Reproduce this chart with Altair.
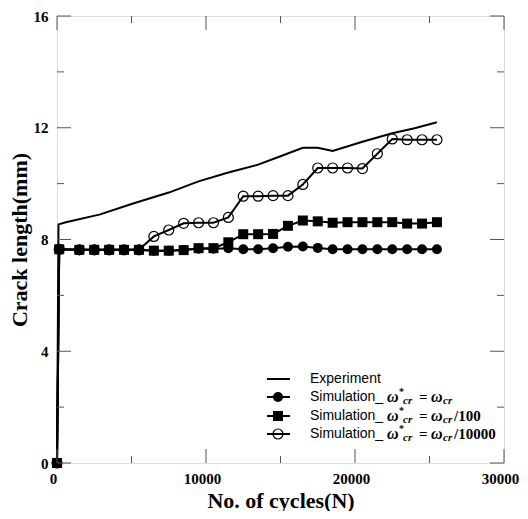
import altair as alt
import pandas as pd

# ---------------- data ----------------
exp_cycles = [0, 100, 600, 2900, 5000, 7500, 9500, 11500, 13500, 15000,
              16500, 17500, 18500, 20500, 22500, 24000, 25500]
exp_crack = [0, 8.54, 8.62, 8.90, 9.27, 9.68, 10.08, 10.40, 10.68, 10.98,
             11.28, 11.28, 11.17, 11.50, 11.80, 11.98, 12.20]

sim_cycles = [0, 150, 1500, 2500, 3500, 4500, 5500, 6500, 7500, 8500, 9500,
              10500, 11500, 12500, 13500, 14500, 15500, 16500, 17500, 18500,
              19500, 20500, 21500, 22500, 23500, 24500, 25500]
crack_wcr = [0, 7.65, 7.63, 7.63, 7.63, 7.63, 7.63, 7.60, 7.60, 7.62, 7.67,
             7.67, 7.69, 7.65, 7.65, 7.69, 7.74, 7.75, 7.70, 7.65,
             7.65, 7.65, 7.65, 7.65, 7.65, 7.65, 7.65]
crack_wcr100 = [0, 7.65, 7.63, 7.63, 7.63, 7.63, 7.63, 7.60, 7.60, 7.62, 7.69,
                7.69, 7.90, 8.19, 8.19, 8.20, 8.49, 8.68, 8.65, 8.60,
                8.62, 8.62, 8.62, 8.62, 8.57, 8.57, 8.62]
crack_wcr10000 = [0, 7.65, 7.63, 7.63, 7.63, 7.63, 7.63, 8.11, 8.34, 8.58, 8.60,
                  8.60, 8.79, 9.55, 9.55, 9.57, 9.57, 9.97, 10.56, 10.56,
                  10.56, 10.54, 11.07, 11.60, 11.57, 11.57, 11.57]

x_major = [0, 10000, 20000, 30000]
x_minor = [5000, 15000, 25000]
y_major = [0, 4, 8, 12, 16]
y_minor = [2, 6, 10, 14]

# ---------------- layout ----------------
W = 447
H = 447
FRAME = "#555555"
SERIF = "Liberation Serif"
SANS = "Liberation Sans"

xs = alt.Scale(domain=[0, 30000], nice=False, zero=False)
ys = alt.Scale(domain=[0, 16], nice=False, zero=False)

xax = alt.Axis(values=x_major, format="d", ticks=False, tickSize=0, domain=False,
               grid=False, labelPadding=8, labelFlush=False, labelOffset=-4,
               labelFont=SERIF, labelFontSize=15, labelFontWeight="bold",
               labelColor="black", title="No. of cycles(N)", titleFont=SERIF,
               titleFontSize=22, titleFontWeight="bold", titleColor="black",
               titleX=W / 2, titleY=37, titleAlign="center", titleBaseline="middle")
yax = alt.Axis(values=y_major, format="d", ticks=False, tickSize=0, domain=False,
               grid=False, labelPadding=9, labelFlush=False,
               labelFont=SERIF, labelFontSize=15, labelFontWeight="bold",
               labelColor="black", title="Crack length(mm)", titleFont=SERIF,
               titleFontSize=22, titleFontWeight="bold", titleColor="black",
               titleX=-38, titleY=H / 2, titleAngle=270, titleAlign="center",
               titleBaseline="middle")

exp_df = pd.DataFrame({"N": exp_cycles, "crack": exp_crack})
df_wcr = pd.DataFrame({"N": sim_cycles, "crack": crack_wcr})
df_wcr100 = pd.DataFrame({"N": sim_cycles, "crack": crack_wcr100})
df_wcr10000 = pd.DataFrame({"N": sim_cycles, "crack": crack_wcr10000})

X = alt.X("N:Q", scale=xs, axis=xax)
Y = alt.Y("crack:Q", scale=ys, axis=yax)

exp_layer = alt.Chart(exp_df).mark_line(color="black", strokeWidth=2).encode(x=X, y=Y)

def sim_layer(df, shape, filled):
    line = alt.Chart(df).mark_line(color="black", strokeWidth=2).encode(x=X, y=Y)
    pts = alt.Chart(df).mark_point(
        shape=shape, filled=filled, size=100, color="black",
        strokeWidth=1.2, opacity=1,
        fill="black" if filled else "transparent").encode(x=X, y=Y)
    return [line, pts]

# ---------------- inward ticks on all four sides ----------------
def xticks(vals, length):
    d = pd.DataFrame({"N": vals})
    b = alt.Chart(d).mark_rule(color=FRAME, strokeWidth=1).encode(
        x=alt.X("N:Q", scale=xs), y=alt.value(H), y2=alt.value(H - length))
    t = alt.Chart(d).mark_rule(color=FRAME, strokeWidth=1).encode(
        x=alt.X("N:Q", scale=xs), y=alt.value(0), y2=alt.value(length))
    return [b, t]

def yticks(vals, length):
    d = pd.DataFrame({"crack": vals})
    l = alt.Chart(d).mark_rule(color=FRAME, strokeWidth=1).encode(
        y=alt.Y("crack:Q", scale=ys), x=alt.value(0), x2=alt.value(length))
    r = alt.Chart(d).mark_rule(color=FRAME, strokeWidth=1).encode(
        y=alt.Y("crack:Q", scale=ys), x=alt.value(W), x2=alt.value(W - length))
    return [l, r]

ticks = xticks(x_major, 14) + xticks(x_minor, 7) + yticks(y_major, 14) + yticks(y_minor, 7)

# ---------------- legend (inside, bottom right) ----------------
one = pd.DataFrame({"k": [0]})
row_y = [363, 381, 400, 418]
sym_x1, sym_x2, sym_c = 210, 233, 221
txt_x = 253

def txt(s, x, y, font, size, weight="normal", style="normal"):
    return alt.Chart(one).mark_text(
        text=s, align="left", baseline="middle", font=font, fontSize=size,
        fontWeight=weight, fontStyle=style, color="black").encode(
        x=alt.value(x), y=alt.value(y))

legend = []
for i, y in enumerate(row_y):
    legend.append(alt.Chart(one).mark_rule(color="black", strokeWidth=2).encode(
        x=alt.value(sym_x1), x2=alt.value(sym_x2), y=alt.value(y)))
for y, shape, filled in [(row_y[1], "circle", True), (row_y[2], "square", True),
                         (row_y[3], "circle", False)]:
    legend.append(alt.Chart(one).mark_point(
        shape=shape, filled=filled, size=100, color="black", strokeWidth=1.2,
        opacity=1, fill="black" if filled else "transparent").encode(
        x=alt.value(sym_c), y=alt.value(y)))

legend.append(txt("Experiment", txt_x, row_y[0], SANS, 14))
for y, tail in [(row_y[1], ""), (row_y[2], "/100"), (row_y[3], "/10000")]:
    legend.append(txt("Simulation_", txt_x, y, SANS, 14))
    legend.append(txt("ω", 330, y, SERIF, 16, "bold", "italic"))
    legend.append(txt("*", 342, y - 5, SERIF, 10, "bold"))
    legend.append(txt("cr", 346, y + 4, SERIF, 11, "bold", "italic"))
    legend.append(txt("=", 362, y, SERIF, 15, "bold"))
    legend.append(txt("ω", 374, y, SERIF, 16, "bold", "italic"))
    legend.append(txt("cr", 386, y + 4, SERIF, 11, "bold", "italic"))
    if tail:
        legend.append(txt(tail, 397, y, SERIF, 15, "bold"))

layers = [exp_layer]
layers += sim_layer(df_wcr, "circle", True)
layers += sim_layer(df_wcr10000, "circle", False)
layers += sim_layer(df_wcr100, "square", True)
layers += ticks + legend

chart = alt.layer(*layers).properties(
    width=W, height=H,
    autosize=alt.AutoSizeParams(type="none"),
    padding={"left": 49, "top": 8, "right": 16, "bottom": 48},
).configure_view(stroke=FRAME, strokeWidth=1).configure(background="white")

chart.save("out.html", embed_options={"renderer": "svg", "actions": False})
